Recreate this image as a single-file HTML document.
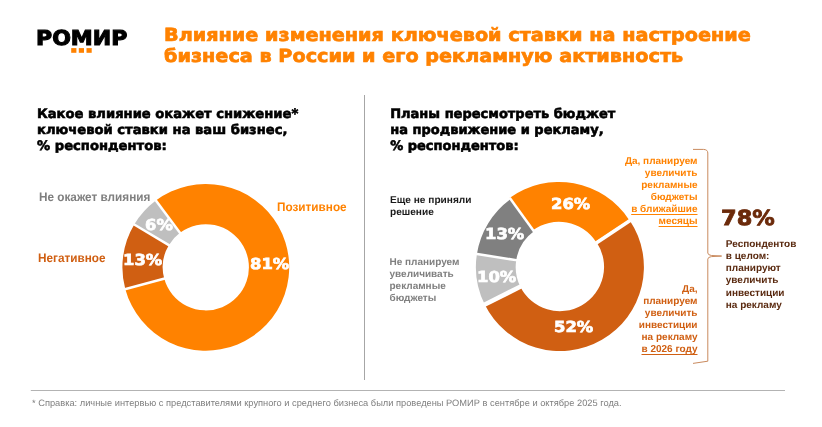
<!DOCTYPE html>
<html lang="ru"><head><meta charset="utf-8"><title>РОМИР</title>
<style>
html,body{margin:0;padding:0;background:#fff}
body{width:822px;height:427px;position:relative;overflow:hidden;font-family:"Liberation Sans",sans-serif;text-rendering:geometricPrecision}
.t{position:absolute;white-space:nowrap;margin:0}
.blk{font-family:"DejaVu Sans","Liberation Sans",sans-serif;font-weight:bold;transform-origin:0 0}
.ar{font-family:"Liberation Sans",sans-serif;font-weight:bold;transform-origin:0 0}
.r{text-align:right;transform-origin:100% 0}
.pct{-webkit-text-stroke:0.7px #fff;color:#fff;font-size:15.2px;line-height:20px;transform:scaleX(1.08)}
u{text-decoration-thickness:1px;text-underline-offset:1.5px}
svg{position:absolute;left:0;top:0}
</style></head><body>
<svg width="822" height="427" viewBox="0 0 822 427">
<rect x="364" y="95" width="1" height="285" fill="#a6a6a6"/>
<rect x="30.8" y="390" width="754.2" height="1" fill="#b3b3b3"/>
<path d="M155.84 200.52A83.4 83.4 0 1 1 125.32 289.17L164.21 278.60A43.1 43.1 0 1 0 179.98 232.79Z" fill="#ff8200"/>
<path d="M125.32 289.17A83.4 83.4 0 0 1 134.24 224.47L168.82 245.17A43.1 43.1 0 0 0 164.21 278.60Z" fill="#d05f12"/>
<path d="M134.24 224.47A83.4 83.4 0 0 1 155.84 200.52L179.98 232.79A43.1 43.1 0 0 0 168.82 245.17Z" fill="#bfbfbf"/>
<line x1="180.88" y1="233.99" x2="154.94" y2="199.32" stroke="#fff" stroke-width="2.5"/>
<line x1="165.66" y1="278.21" x2="123.87" y2="289.56" stroke="#fff" stroke-width="2.5"/>
<line x1="170.10" y1="245.94" x2="132.95" y2="223.70" stroke="#fff" stroke-width="2.5"/>
<path d="M510.53 199.04A84 84 0 0 1 629.95 220.64L596.76 242.60A44.2 44.2 0 0 0 533.92 231.24Z" fill="#ff8200" transform="translate(-1 -1)"/>
<path d="M629.95 220.64A84 84 0 1 1 484.73 304.48L520.34 286.72A44.2 44.2 0 1 0 596.76 242.60Z" fill="#d05f12"/>
<path d="M484.73 304.48A84 84 0 0 1 476.91 254.00L516.23 260.16A44.2 44.2 0 0 0 520.34 286.72Z" fill="#bfbfbf"/>
<path d="M476.91 254.00A84 84 0 0 1 510.53 199.04L533.92 231.24A44.2 44.2 0 0 0 516.23 260.16Z" fill="#808080"/>
<line x1="534.80" y1="232.45" x2="509.64" y2="197.83" stroke="#fff" stroke-width="2.5"/>
<line x1="595.51" y1="243.43" x2="631.20" y2="219.81" stroke="#fff" stroke-width="3.7"/>
<line x1="521.69" y1="286.05" x2="483.38" y2="305.15" stroke="#fff" stroke-width="4.5"/>
<line x1="517.71" y1="260.39" x2="475.43" y2="253.77" stroke="#fff" stroke-width="2.5"/>
<path d="M693 149.4H703.5Q707.8 149.6 707.8 153V253Q707.9 255.1 711.5 255.5L721.6 256.05L711.5 256.6Q707.9 257 707.8 259.1V361.2L693 363.4" fill="none" stroke="#c98a5e" stroke-width="1"/>
<rect x="71.2" y="48.1" width="5.2" height="4.7" fill="#ff8200"/>
<rect x="78.8" y="48.1" width="5.2" height="4.7" fill="#ff8200"/>
<rect x="86.5" y="48.1" width="5.2" height="4.7" fill="#ff8200"/>
</svg>
<div class="t blk" id="logo" style="left:36.3px;top:23.8px;font-size:20.4px;line-height:28px;color:#000;transform:scaleX(1.08);-webkit-text-stroke:1.1px #000">РОМИР</div>
<h1 class="t blk" id="title" style="-webkit-text-stroke:0.7px #ff8200;left:163.5px;top:26.3px;font-size:18.1px;line-height:20.6px;color:#ff8200;transform:scaleX(1.063)">Влияние изменения ключевой ставки на настроение<br>бизнеса в России и его рекламную активность</h1>
<h2 class="t blk" id="h2a" style="-webkit-text-stroke:0.6px #000;left:37.2px;top:106.5px;font-size:13px;line-height:16px;color:#000;transform:scaleX(1.01)">Какое влияние окажет снижение*<br>ключевой ставки на ваш бизнес,<br>% респондентов:</h2>
<h2 class="t blk" id="h2b" style="-webkit-text-stroke:0.6px #000;left:390.2px;top:106.5px;font-size:13px;line-height:16px;color:#000;transform:scaleX(1.0)">Планы пересмотреть бюджет<br>на продвижение и рекламу,<br>% респондентов:</h2>

<div class="t ar" id="l1" style="left:38.8px;top:188.8px;font-size:12.2px;line-height:16px;transform:scaleX(0.965);color:#7f7f7f">Не окажет влияния</div>
<div class="t ar" id="l2" style="left:38.0px;top:249.8px;font-size:12.2px;line-height:16px;transform:scaleX(0.965);color:#d05f12">Негативное</div>
<div class="t ar" id="l3" style="left:277.0px;top:198.8px;font-size:12.2px;line-height:16px;transform:scaleX(0.965);color:#ff8200">Позитивное</div>

<div class="t blk pct" id="p6" style="left:144.5px;top:215px">6%</div>
<div class="t blk pct" id="p13" style="left:122.8px;top:249.5px">13%</div>
<div class="t blk pct" id="p81" style="left:250px;top:254px">81%</div>

<div class="t ar" id="r1" style="left:390px;top:194.9px;font-size:10px;line-height:11.7px;color:#1a1a1a;transform:scaleX(1.012)">Еще не приняли<br>решение</div>
<div class="t ar" id="r2" style="left:389.5px;top:256.8px;font-size:10px;line-height:12.05px;color:#7f7f7f">Не планируем<br>увеличивать<br>рекламные<br>бюджеты</div>

<div class="t blk pct" id="q26" style="left:550.8px;top:194px">26%</div>
<div class="t blk pct" id="q13" style="left:485.3px;top:224px">13%</div>
<div class="t blk pct" id="q10" style="left:477px;top:266.7px">10%</div>
<div class="t blk pct" id="q52" style="left:554.4px;top:316.8px">52%</div>

<div class="t ar r" id="o1" style="right:124.5px;top:155.6px;font-size:10px;line-height:12px;color:#ff8200">Да, планируем<br>увеличить<br>рекламные<br>бюджеты<br><u>в ближайшие</u><br><u>месяцы</u></div>
<div class="t ar r" id="o2" style="right:124.5px;top:283.6px;font-size:10px;line-height:12px;color:#d05f12">Да,<br>планируем<br>увеличить<br>инвестиции<br>на рекламу<br><u>в 2026 году</u></div>

<div class="t blk" id="big" style="-webkit-text-stroke:0.8px #6b2a0a;left:721px;top:203px;font-size:20.8px;line-height:30px;color:#6b2a0a;transform:scaleX(1.08)">78%</div>
<div class="t ar" id="o3" style="left:725.8px;top:238.9px;font-size:10px;line-height:12.18px;color:#5a2a10">Респондентов<br>в целом:<br>планируют<br>увеличить<br>инвестиции<br>на рекламу</div>

<div class="t" id="foot" style="left:32.3px;top:396.9px;font-size:9.25px;line-height:12px;color:#7f7f7f;transform-origin:0 0;transform:scaleX(1.0035)">* Справка: личные интервью с представителями крупного и среднего бизнеса были проведены РОМИР в сентябре и октябре 2025 года.</div>
</body></html>
